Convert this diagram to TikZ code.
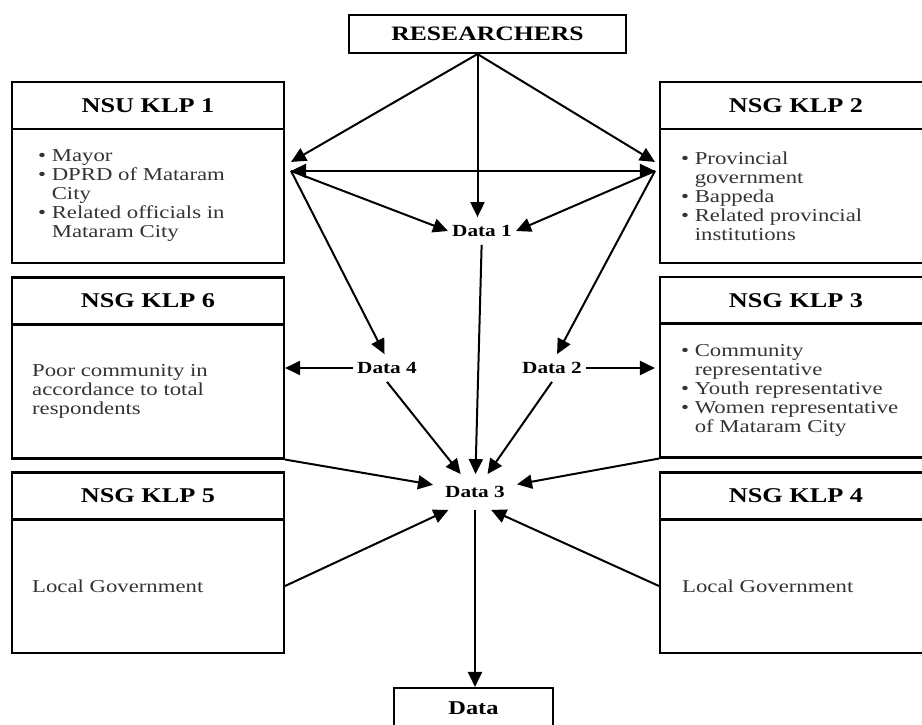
\documentclass[tikz,border=0pt]{standalone}
\usepackage{fontspec}
\setmainfont{Liberation Serif}[FakeStretch=1.25]
\usetikzlibrary{arrows.meta,calc}

\tikzset{
  klphead/.style={draw, line width=2.1pt, minimum width=272pt, minimum height=47pt, inner sep=0pt, font=\fontsize{21}{24}\selectfont\bfseries},
  klpbody/.style={draw, line width=2.1pt, minimum width=272pt, minimum height=134pt, inner sep=0pt},
  klptext/.style={anchor=west, align=left, inner sep=0pt, text=black!80, font=\fontsize{18.2}{19}\selectfont},
  datalabel/.style={inner xsep=4pt, inner ysep=8pt, font=\fontsize{17}{18}\selectfont\bfseries},
  flow/.style={line width=2pt, -{Triangle[length=15pt,width=14pt]}},
  flowboth/.style={line width=2pt, {Triangle[length=15pt,width=14pt]}-{Triangle[length=15pt,width=14pt]}},
}

\begin{document}
\begin{tikzpicture}[x=1pt, y=-1pt]
	\useasboundingbox (0,0) rectangle (922,725);
	\clip (0,0) rectangle (922,725);

	% Researchers
	\node[draw, line width=2.1pt, minimum width=277pt, minimum height=38pt, font=\fontsize{20.5}{22}\selectfont\bfseries] (res) at (487.5,34) {RESEARCHERS};

	% NSU KLP 1
	\node[klphead] (h1) at (148,105.5) {NSU KLP 1};
	\node[klpbody] (b1) at (148,196) {};
	\node[klptext] (t1) at ([xshift=27pt]b1.west) {\textbullet\ Mayor\\ \textbullet\ DPRD of Mataram\\ \hphantom{\textbullet\ }City\\ \textbullet\ Related officials in\\ \hphantom{\textbullet\ }Mataram City};

	% NSG KLP 2
	\node[klphead] (h2) at (796,105.5) {NSG KLP 2};
	\node[klpbody] (b2) at (796,196) {};
	\node[klptext] (t2) at ([xshift=22pt]b2.west) {\textbullet\ Provincial\\ \hphantom{\textbullet\ }government\\ \textbullet\ Bappeda\\ \textbullet\ Related provincial\\ \hphantom{\textbullet\ }institutions};

	% NSG KLP 6
	\node[klphead] (h6) at (148,301) {NSG KLP 6};
	\node[klpbody] (b6) at (148,391.5) {};
	\node[klptext] (t6) at ([xshift=21pt]b6.west) {Poor community in\\ accordance to total\\ respondents};

	% NSG KLP 3
	\node[klphead] (h3) at (796,300.5) {NSG KLP 3};
	\node[klpbody] (b3) at (796,390.5) {};
	\node[klptext] (t3) at ([xshift=22pt]b3.west) {\textbullet\ Community\\ \hphantom{\textbullet\ }representative\\ \textbullet\ Youth representative\\ \textbullet\ Women representative\\ \hphantom{\textbullet\ }of Mataram City};

	% NSG KLP 5
	\node[klphead] (h5) at (148,496) {NSG KLP 5};
	\node[klpbody] (b5) at (148,586) {};
	\node[klptext] (t5) at ([xshift=21pt]b5.west) {Local Government};

	% NSG KLP 4
	\node[klphead] (h4) at (796,496) {NSG KLP 4};
	\node[klpbody] (b4) at (796,586) {};
	\node[klptext] (t4) at ([xshift=23pt]b4.west) {Local Government};

	% Data labels
	\node[datalabel] (d1) at (482,231) {Data 1};
	\node[datalabel] (d2) at (552,368) {Data 2};
	\node[datalabel] (d4) at (387,368) {Data 4};
	\node[datalabel, inner xsep=12pt, inner ysep=12pt] (d3) at (475,492) {Data 3};
	\node[draw, line width=2.1pt, minimum width=159pt, minimum height=40pt, font=\fontsize{19.5}{22}\selectfont\bfseries] (data) at (473.5,708) {Data};

	% junction points
	\coordinate (rs) at ($(res.south)+(-10,0)$);
	\coordinate (k1a) at ($(b1.north east)+(6,34)$);
	\coordinate (k1b) at ($(b1.north east)+(6,43)$);
	\coordinate (k2a) at ($(b2.north west)+(-4,34)$);
	\coordinate (k2b) at ($(b2.north west)+(-4,43)$);

	% from researchers
	\draw[flow] (rs) -- (k1a);
	\draw[flow] (rs) -- (rs |- d1.north);
	\draw[flow] (rs) -- (k2a);
	\draw[flowboth] (k1b) -- (k2b);

	% to data 1, 2, 4
	\draw[flow] (k1b) -- (d1.west);
	\draw[flow] (k2b) -- (d1.east);
	\draw[flow] (k1b) -- (d4.100);
	\draw[flow] (k2b) -- (d2.70);
	\draw[flow] (d4.west) -- (d4.west -| b6.east);
	\draw[flow] (d2.east) -- (d2.east -| k2b);

	% to data 3
	\draw[flow] (d4.south) -- (d3);
	\draw[flow] (d1) -- (d3);
	\draw[flow] (d2.south) -- (d3);
	\draw[flow] (b6.south east) -- (d3);
	\draw[flow] (b3.south west) -- (d3);
	\draw[flow] (b5.east) -- (d3.214);
	\draw[flow] (b4.west) -- (d3.312);
	\draw[flow] (d3.south) -- (d3.south |- data.north);
\end{tikzpicture}
\end{document}
